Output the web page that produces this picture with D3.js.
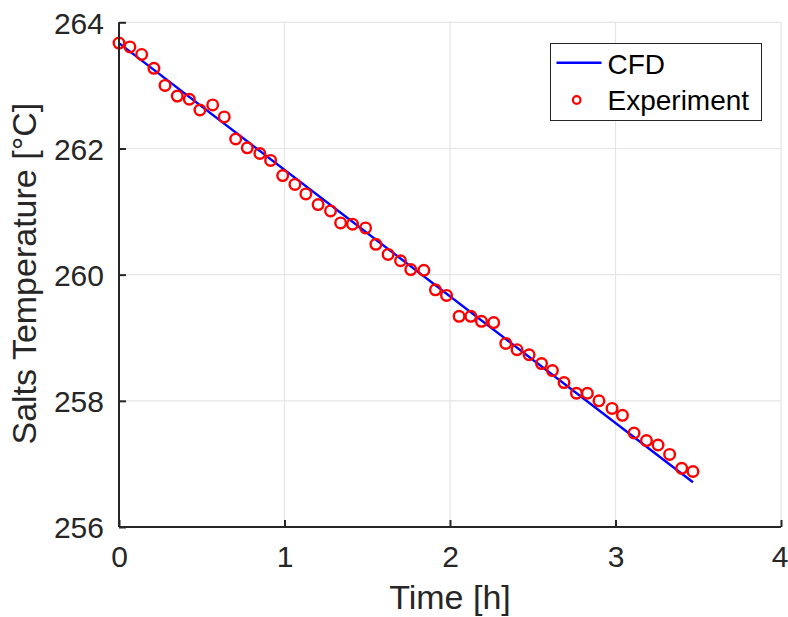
<!DOCTYPE html>
<html>
<head>
<meta charset="utf-8">
<script src="https://cdn.jsdelivr.net/npm/d3@7"></script>
<style>
  html, body { margin: 0; padding: 0; background: #fff; }
  svg { display: block; font-family: "Liberation Sans", Arial, Helvetica, sans-serif; }
</style>
</head>
<body>
<svg id="chart" width="788" height="617"></svg>
<script>
// ---- data ----
const expTime = [0.000,0.066,0.137,0.211,0.278,0.352,0.425,0.489,0.566,0.636,
                 0.705,0.775,0.851,0.916,0.989,1.063,1.129,1.203,1.278,1.339,
                 1.411,1.490,1.552,1.626,1.701,1.763,1.842,1.912,1.979,2.055,
                 2.126,2.190,2.264,2.337,2.405,2.478,2.553,2.619,2.689,2.764,
                 2.830,2.900,2.979,3.042,3.112,3.187,3.257,3.327,3.400,3.468];
const expTemp = [263.67,263.61,263.49,263.27,263.00,262.83,262.78,262.61,262.69,262.50,
                 262.15,262.01,261.92,261.81,261.57,261.43,261.28,261.11,261.01,260.82,
                 260.80,260.74,260.48,260.32,260.22,260.08,260.07,259.76,259.67,259.34,
                 259.34,259.26,259.24,258.91,258.81,258.73,258.59,258.48,258.29,258.12,
                 258.12,258.00,257.88,257.77,257.49,257.37,257.30,257.15,256.93,256.88];
const cfdTime = [0.000, 3.468];
const cfdTemp = [263.67, 256.71];
const xTicks = [0, 1, 2, 3, 4];
const yTicks = [256, 258, 260, 262, 264];
const xDomain = [0, 4];
const yDomain = [256, 264];
const seriesNames = ["CFD", "Experiment"];
const xLabel = "Time [h]";
const yLabel = "Salts Temperature [°C]";

// ---- layout ----
const svg = d3.select("#chart");
const L = 119, R = 781, T = 22.3, B = 527;
const x = d3.scaleLinear().domain(xDomain).range([L, R]);
const y = d3.scaleLinear().domain(yDomain).range([B, T]);
const axisColor = "#262626";
const gridColor = "#e5e5e5";

// grid
const grid = svg.append("g");
grid.selectAll(".gx").data(xTicks.filter(d => d > 0)).enter().append("line")
  .attr("x1", d => x(d)).attr("x2", d => x(d)).attr("y1", B).attr("y2", T)
  .attr("stroke", gridColor).attr("stroke-width", 1.2);
grid.selectAll(".gy").data(yTicks.filter(d => d > yDomain[0])).enter().append("line")
  .attr("y1", d => y(d)).attr("y2", d => y(d)).attr("x1", L).attr("x2", R)
  .attr("stroke", gridColor).attr("stroke-width", 1.2);

// CFD line
const cfd = cfdTime.map((t, i) => [t, cfdTemp[i]]);
svg.append("path").datum(cfd)
  .attr("d", d3.line().x(d => x(d[0])).y(d => y(d[1])))
  .attr("fill", "none").attr("stroke", "#0000ff").attr("stroke-width", 2.4);

// Experiment markers
const exp = expTime.map((t, i) => [t, expTemp[i]]);
svg.append("g").selectAll("circle").data(exp).enter().append("circle")
  .attr("cx", d => x(d[0])).attr("cy", d => y(d[1])).attr("r", 5.3)
  .attr("fill", "none").attr("stroke", "#ff0000").attr("stroke-width", 2.4);

// axes
const xAxis = d3.axisBottom(x).tickValues(xTicks).tickSize(-7).tickPadding(14).tickFormat(d3.format("d"));
const yAxis = d3.axisLeft(y).tickValues(yTicks).tickSize(-7).tickPadding(15).tickFormat(d3.format("d"));
const gx = svg.append("g").attr("transform", `translate(0,${B})`).call(xAxis);
const gy = svg.append("g").attr("transform", `translate(${L},0)`).call(yAxis);
[gx, gy].forEach(g => {
  g.select(".domain").attr("stroke", axisColor).attr("stroke-width", 2).attr("d",
    g === gx ? `M${L},0H${R}` : `M0,${B}V${T}`);
  g.selectAll(".tick line").attr("stroke", axisColor).attr("stroke-width", 2);
  g.selectAll(".tick text").attr("fill", axisColor).style("font-size", "30px")
    .style("font-family", '"Liberation Sans", Arial, Helvetica, sans-serif');
});
gx.selectAll(".tick text").attr("dy", null).attr("y", 40);
gx.selectAll(".tick text").filter(d => d === 4).attr("dx", -1.5);
gy.selectAll(".tick text").attr("dy", "0.36em");

// axis labels
svg.append("text").attr("x", (L + R) / 2).attr("y", 609)
  .attr("text-anchor", "middle").attr("fill", axisColor).style("font-size", "34px")
  .text(xLabel);
svg.append("text").attr("transform", `translate(35.5,${(T + B) / 2 - 1}) rotate(-90)`)
  .attr("text-anchor", "middle").attr("fill", axisColor).style("font-size", "34px")
  .text(yLabel);

// legend
const lg = svg.append("g");
lg.append("rect").attr("x", 550.5).attr("y", 43.5).attr("width", 211).attr("height", 77)
  .attr("fill", "#fff").attr("stroke", axisColor).attr("stroke-width", 1);
lg.append("line").attr("x1", 556.5).attr("x2", 601.5).attr("y1", 62.7).attr("y2", 62.7)
  .attr("stroke", "#0000ff").attr("stroke-width", 2.4);
lg.append("circle").attr("cx", 576.7).attr("cy", 100).attr("r", 3.8)
  .attr("fill", "none").attr("stroke", "#ff0000").attr("stroke-width", 2.2);
lg.selectAll("text").data(seriesNames).enter().append("text")
  .attr("x", 607.5).attr("y", (d, i) => i === 0 ? 73.5 : 109.5)
  .attr("fill", "#000").style("font-size", "28px").text(d => d);
</script>
</body>
</html>
